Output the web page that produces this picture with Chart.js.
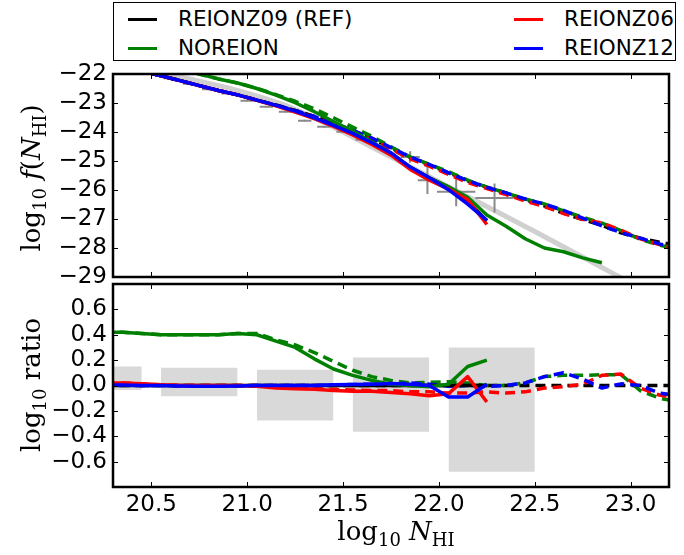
<!DOCTYPE html>
<html>
<head>
<meta charset="utf-8">
<script src="https://cdn.jsdelivr.net/npm/chart.js@4.4.0/dist/chart.umd.min.js"></script>
<style>
  html, body { margin: 0; padding: 0; background: #fff; }
  #wrap { position: relative; width: 684px; height: 555px; overflow: hidden; }
  #wrap canvas { position: absolute; left: 0; }
  #cTop { top: 0; }
  #cBot { top: 280px; }
  #legend {
    position: absolute; left: 113px; top: 2px; width: 561px; height: 57px;
    border: 1.5px solid #000; background: #fff;
    font: 21.5px "DejaVu Sans", sans-serif; color: #000;
  }
  #legend .item { position: absolute; white-space: nowrap; line-height: 1; }
  #legend .item i { position: absolute; left: 0; top: 50%; width: 29px; height: 3px; margin-top: -1px; }
  #legend .item span { position: absolute; left: 50px; top: 50%; transform: translateY(-50%); }
</style>
</head>
<body>
<div id="wrap">
  <canvas id="cTop" width="684" height="292"></canvas>
  <canvas id="cBot" width="684" height="275"></canvas>
  <div id="legend"></div>
</div>
<script>
const xTicks = [20.5, 21.0, 21.5, 22.0, 22.5, 23.0];
const fTicks = [-22, -23, -24, -25, -26, -27, -28, -29];
const ratioTicks = [-0.6, -0.4, -0.2, 0.0, 0.2, 0.4, 0.6];

const names = ['REIONZ09 (REF)', 'NOREION', 'REIONZ06', 'REIONZ12'];
const colors = ['#000000', '#008000', '#ff0000', '#0000ff'];

// log10 N_HI bin centres
const logN = [20.25, 20.35, 20.45, 20.55, 20.65, 20.75, 20.85, 20.95, 21.05, 21.15, 21.25,
  21.35, 21.45, 21.55, 21.65, 21.75, 21.85, 21.95, 22.05, 22.15, 22.25];
const logNGreen = [20.25, 20.35, 20.45, 20.55, 20.65, 20.75, 20.85, 20.95, 21.05, 21.15, 21.25,
  21.35, 21.45, 21.55, 21.65, 21.75, 21.85, 21.95, 22.05, 22.15, 22.25,
  22.35, 22.45, 22.55, 22.65, 22.75, 22.85];
const logNLong = [20.25, 20.35, 20.45, 20.55, 20.65, 20.75, 20.85, 20.95, 21.05, 21.15, 21.25,
  21.35, 21.45, 21.55, 21.65, 21.75, 21.85, 21.95, 22.05, 22.15, 22.25,
  22.35, 22.45, 22.55, 22.65, 22.75, 22.85, 22.95, 23.05, 23.15, 23.25];

// log10 f(N_HI), solid runs
const fRef = [-21.60, -21.74, -21.90, -22.06, -22.23, -22.40, -22.57, -22.72, -22.90, -23.08, -23.28,
  -23.51, -23.77, -24.05, -24.38, -24.74, -25.22, -25.58, -25.90, -26.40, -27.06];
const fNoreion = [-21.18, -21.32, -21.49, -21.66, -21.83, -22.00, -22.17, -22.31, -22.50, -22.73, -22.99,
  -23.30, -23.64, -23.97, -24.34, -24.73, -25.22, -25.59, -25.89, -26.25, -26.86,
  -27.25, -27.68, -28.00, -28.13, -28.34, -28.51];
const fReionz06 = [-21.58, -21.72, -21.89, -22.06, -22.23, -22.40, -22.57, -22.72, -22.91, -23.10, -23.31,
  -23.54, -23.81, -24.10, -24.43, -24.80, -25.29, -25.66, -25.97, -26.33, -27.19];
const fReionz12 = [-21.60, -21.74, -21.90, -22.06, -22.23, -22.40, -22.57, -22.72, -22.90, -23.08, -23.28,
  -23.51, -23.77, -24.05, -24.37, -24.72, -25.21, -25.58, -25.99, -26.49, -27.05];

// log10 f(N_HI), dashed runs
const fRefD = [-21.60, -21.74, -21.90, -22.06, -22.23, -22.40, -22.57, -22.72, -22.90, -23.07, -23.26,
  -23.46, -23.70, -23.95, -24.22, -24.55, -24.88, -25.13, -25.40, -25.68, -25.90,
  -26.10, -26.33, -26.55, -26.80, -27.02, -27.22, -27.48, -27.66, -27.80, -27.92];
const fNoreionD = [-21.18, -21.32, -21.49, -21.66, -21.83, -22.00, -22.17, -22.31, -22.49, -22.71, -22.94,
  -23.20, -23.51, -23.83, -24.15, -24.51, -24.86, -25.11, -25.37, -25.66, -25.90,
  -26.10, -26.31, -26.48, -26.72, -26.94, -27.14, -27.40, -27.70, -27.90, -28.05];
const fReionz06D = [-21.58, -21.72, -21.89, -22.06, -22.23, -22.40, -22.57, -22.72, -22.90, -23.08, -23.28,
  -23.49, -23.73, -23.99, -24.26, -24.59, -24.93, -25.18, -25.46, -25.74, -25.95,
  -26.16, -26.38, -26.57, -26.81, -27.01, -27.14, -27.39, -27.68, -27.88, -28.02];
const fReionz12D = [-21.60, -21.74, -21.90, -22.06, -22.23, -22.40, -22.57, -22.72, -22.90, -23.07, -23.26,
  -23.46, -23.70, -23.94, -24.21, -24.54, -24.86, -25.12, -25.41, -25.68, -25.91,
  -26.10, -26.31, -26.48, -26.70, -26.97, -27.24, -27.47, -27.66, -27.86, -28.00];

// observed distribution: fit curve and binned points
const fitN = [20.3, 20.5, 20.7, 20.9, 21.0, 21.1, 21.2, 21.3, 21.4, 21.5, 21.7, 21.9, 22.1, 22.3, 22.5, 22.7, 22.9, 23.1];
const fitF = [-21.55, -21.87, -22.17, -22.48, -22.66, -22.86, -23.08, -23.36, -23.67, -24.00, -24.69, -25.37,
  -26.06, -26.74, -27.43, -28.14, -28.85, -29.55];
const obsN = [20.6, 20.7, 20.8, 20.9, 21.0, 21.1, 21.2, 21.3, 21.4, 21.5, 21.6, 21.7, 21.85, 21.94, 22.09, 22.29];
const obsF = [-22.15, -22.34, -22.53, -22.67, -22.92, -23.13, -23.30, -23.61, -23.82, -23.99, -24.27, -24.52,
  -24.86, -25.66, -26.06, -26.28];
const obsNErr = [0.035, 0.035, 0.035, 0.035, 0.035, 0.035, 0.035, 0.035, 0.035, 0.035, 0.035, 0.035, 0.05, 0.05, 0.1, 0.1];
const obsFErr = [0.03, 0.03, 0.03, 0.03, 0.03, 0.03, 0.03, 0.03, 0.03, 0.03, 0.03, 0.03, 0.2, 0.48, 0.5, 0.5];

// ratio panel: log10 (run / REF)
const refRatioN = [20.25, 22.25];
const refRatio = [0, 0];
const refRatioDN = [20.25, 23.25];
const refRatioD = [0, 0];
const rNoreion = [0.42, 0.42, 0.41, 0.40, 0.40, 0.40, 0.40, 0.41, 0.40, 0.35, 0.30,
  0.21, 0.13, 0.08, 0.04, 0.01, 0.0, -0.01, 0.01, 0.15, 0.20];
const rReionz06 = [0.02, 0.02, 0.013, 0.005, 0.0, 0.0, 0.0, 0.0, -0.005, -0.02, -0.025,
  -0.03, -0.04, -0.045, -0.045, -0.055, -0.065, -0.08, -0.065, 0.07, -0.13];
const rReionz12 = [0.005, 0.003, 0.0, 0.0, -0.003, -0.005, -0.005, -0.003, 0.0, 0.0, 0.0,
  0.0, 0.005, 0.008, 0.01, 0.015, 0.01, 0.0, -0.09, -0.09, 0.01];
const rNoreionD = [0.42, 0.42, 0.41, 0.40, 0.40, 0.40, 0.40, 0.41, 0.41, 0.36, 0.32,
  0.26, 0.19, 0.12, 0.07, 0.04, 0.02, 0.025, 0.03, 0.02, 0.0,
  0.0, 0.02, 0.07, 0.08, 0.08, 0.085, 0.085, -0.04, -0.10, -0.13];
const rReionz06D = [0.02, 0.02, 0.013, 0.005, 0.0, 0.0, 0.0, 0.0, 0.0, -0.01, -0.02,
  -0.025, -0.03, -0.035, -0.04, -0.04, -0.05, -0.05, -0.06, -0.06, -0.05,
  -0.06, -0.05, -0.02, -0.01, 0.01, 0.08, 0.09, -0.02, -0.075, -0.10];
const rReionz12D = [0.005, 0.003, 0.0, 0.0, -0.003, -0.005, -0.005, -0.003, 0.0, 0.0, 0.0,
  0.0, 0.005, 0.008, 0.01, 0.01, 0.02, 0.01, -0.005, 0.0, -0.008,
  0.0, 0.02, 0.07, 0.10, 0.05, -0.02, 0.013, 0.0, -0.06, -0.08];

// observational uncertainty bands on the ratio
const boxNMin = [20.30, 20.55, 21.05, 21.55, 22.05];
const boxNMax = [20.45, 20.95, 21.45, 21.95, 22.50];
const boxLow = [-0.035, -0.085, -0.275, -0.365, -0.68];
const boxHigh = [0.15, 0.14, 0.125, 0.22, 0.30];

Chart.defaults.font.family = '"DejaVu Sans", sans-serif';
Chart.defaults.font.size = 23;
Chart.defaults.color = '#000';
Chart.defaults.animation = false;

const DASH = [10, 6];

function pts(xs, ys) {
  return xs.map((x, i) => ({ x: x, y: ys[i] }));
}

function line(xs, ys, color, dashed, order, extra) {
  return Object.assign({
    data: pts(xs, ys),
    borderColor: color,
    borderWidth: 3.5,
    borderDash: dashed ? DASH : [],
    borderJoinStyle: 'round',
    pointRadius: 0,
    fill: false,
    tension: 0,
    order: order
  }, extra || {});
}

// error crosses as broken line segments
function crossBars(horizontal) {
  const d = [];
  obsN.forEach((n, i) => {
    if (horizontal) {
      d.push({ x: n - obsNErr[i], y: obsF[i] }, { x: n + obsNErr[i], y: obsF[i] });
    } else {
      d.push({ x: n, y: obsF[i] - obsFErr[i] }, { x: n, y: obsF[i] + obsFErr[i] });
    }
    d.push({ x: n, y: null });
  });
  return d;
}

function minusFmt(v, digits) {
  const s = Math.abs(v).toFixed(digits);
  return v < -1e-9 ? '\u2212' + s : s;
}

// inward tick marks on all four sides plus the heavy frame
const framePlugin = {
  id: 'frame',
  afterDatasetsDraw(chart) {
    const { ctx, chartArea: a, scales } = chart;
    const len = 5;
    ctx.save();
    ctx.strokeStyle = '#000';
    ctx.lineWidth = 1;
    ctx.beginPath();
    scales.x.ticks.forEach(t => {
      const px = Math.round(scales.x.getPixelForValue(t.value)) + 0.5;
      ctx.moveTo(px, a.bottom); ctx.lineTo(px, a.bottom - len);
      ctx.moveTo(px, a.top); ctx.lineTo(px, a.top + len);
    });
    scales.y.ticks.forEach(t => {
      const py = Math.round(scales.y.getPixelForValue(t.value)) + 0.5;
      ctx.moveTo(a.left, py); ctx.lineTo(a.left + len, py);
      ctx.moveTo(a.right, py); ctx.lineTo(a.right - len, py);
    });
    ctx.stroke();
    ctx.lineWidth = 2.5;
    ctx.strokeRect(a.left, a.top, a.right - a.left, a.bottom - a.top);
    ctx.restore();
  }
};

// mathtext-like label: [text, style] with r = roman, i = italic, s = subscript
function drawMath(ctx, parts, x, y, rotate) {
  const fonts = {
    r: '26px "DejaVu Serif", serif',
    i: 'italic 26px "DejaVu Serif", serif',
    s: '18px "DejaVu Serif", serif'
  };
  ctx.save();
  ctx.translate(x, y);
  if (rotate) ctx.rotate(-Math.PI / 2);
  ctx.fillStyle = '#000';
  ctx.textAlign = 'left';
  ctx.textBaseline = 'alphabetic';
  let w = 0;
  parts.forEach(p => { ctx.font = fonts[p[1]]; w += ctx.measureText(p[0]).width; });
  let cx = -w / 2;
  parts.forEach(p => {
    ctx.font = fonts[p[1]];
    ctx.fillText(p[0], cx, p[1] === 's' ? 6 : 0);
    cx += ctx.measureText(p[0]).width;
  });
  ctx.restore();
}

function titlePlugin(id, draw) {
  return { id: id, afterDraw(chart) { draw(chart.ctx); } };
}

// pin the axis boxes so the plot frame lands where it should
function fixedWidth(w) {
  return scale => { scale.width = w; scale.paddingTop = 0; scale.paddingBottom = 0; };
}
function fixedHeight(h) {
  return scale => { scale.height = h; scale.paddingLeft = 0; scale.paddingRight = 0; };
}

const xScaleBase = {
  type: 'linear',
  min: 20.3,
  max: 23.2,
  grid: { display: false, drawTicks: false },
  border: { display: false },
  afterBuildTicks: scale => { scale.ticks = xTicks.map(v => ({ value: v })); }
};

// upper panel: f(N_HI)
new Chart(document.getElementById('cTop'), {
  type: 'line',
  data: {
    datasets: [
      line(fitN, fitF, '#d0d0d0', false, 20, { borderWidth: 5 }),
      line([], [], '#8a8a8a', false, 19, { data: crossBars(true), borderWidth: 2, spanGaps: false }),
      line([], [], '#8a8a8a', false, 19, { data: crossBars(false), borderWidth: 2, spanGaps: false }),
      line(logNLong, fRefD, colors[0], true, 12),
      line(logNLong, fNoreionD, colors[1], true, 11),
      line(logNLong, fReionz06D, colors[2], true, 10, { borderDashOffset: -2 }),
      line(logNLong, fReionz12D, colors[3], true, 9, { borderDashOffset: -4 }),
      line(logN, fRef, colors[0], false, 8),
      line(logNGreen, fNoreion, colors[1], false, 7),
      line(logN, fReionz06, colors[2], false, 6),
      line(logN, fReionz12, colors[3], false, 5)
    ]
  },
  options: {
    responsive: false,
    devicePixelRatio: 1,
    layout: { padding: { top: 74, right: 15, bottom: 0, left: 0 } },
    plugins: { legend: { display: false }, tooltip: { enabled: false } },
    scales: {
      x: Object.assign({}, xScaleBase, {
        ticks: { display: false },
        afterFit: fixedHeight(15)
      }),
      y: {
        type: 'linear',
        min: -29,
        max: -22,
        grid: { display: false, drawTicks: false },
        border: { display: false },
        ticks: { padding: 6, autoSkip: false, callback: v => minusFmt(v, 0) },
        afterBuildTicks: scale => { scale.ticks = fTicks.map(v => ({ value: v })); },
        afterFit: fixedWidth(113)
      }
    }
  },
  plugins: [framePlugin, titlePlugin('fTitle', ctx => drawMath(ctx, [
    ['log', 'r'], ['10', 's'], [' ', 'r'], ['f', 'i'], ['(', 'r'], ['N', 'i'], ['HI', 's'], [')', 'r']
  ], 40, 178, true))]
});

// lower panel: ratio to REF
const boxSets = boxNMin.map((n0, i) => ({
  data: pts([n0, boxNMax[i]], [boxHigh[i], boxHigh[i]]),
  borderWidth: 0,
  borderColor: 'rgba(0,0,0,0)',
  backgroundColor: '#d9d9d9',
  pointRadius: 0,
  fill: { value: boxLow[i] },
  order: 30
}));

new Chart(document.getElementById('cBot'), {
  type: 'line',
  data: {
    datasets: boxSets.concat([
      line(refRatioDN, refRatioD, colors[0], true, 12),
      line(logNLong, rNoreionD, colors[1], true, 11),
      line(logNLong, rReionz06D, colors[2], true, 10, { borderDashOffset: -2 }),
      line(logNLong, rReionz12D, colors[3], true, 9, { borderDashOffset: -4 }),
      line(refRatioN, refRatio, colors[0], false, 8),
      line(logN, rNoreion, colors[1], false, 7),
      line(logN, rReionz06, colors[2], false, 6),
      line(logN, rReionz12, colors[3], false, 5)
    ])
  },
  options: {
    responsive: false,
    devicePixelRatio: 1,
    layout: { padding: { top: 4, right: 15, bottom: 0, left: 0 } },
    plugins: { legend: { display: false }, tooltip: { enabled: false }, filler: { propagate: false } },
    scales: {
      x: Object.assign({}, xScaleBase, {
        ticks: { padding: 4, autoSkip: false, maxRotation: 0, callback: v => v.toFixed(1) },
        afterFit: fixedHeight(68)
      }),
      y: {
        type: 'linear',
        min: -0.8,
        max: 0.8,
        grid: { display: false, drawTicks: false },
        border: { display: false },
        ticks: { padding: 6, autoSkip: false, callback: v => minusFmt(v, 1) },
        afterBuildTicks: scale => { scale.ticks = ratioTicks.map(v => ({ value: v })); },
        afterFit: fixedWidth(113)
      }
    }
  },
  plugins: [framePlugin,
    titlePlugin('rTitle', ctx => drawMath(ctx, [['log', 'r'], ['10', 's'], [' ratio', 'r']], 40, 105, true)),
    titlePlugin('nTitle', ctx => drawMath(ctx, [['log', 'r'], ['10', 's'], [' ', 'r'], ['N', 'i'], ['HI', 's']], 396, 260, false))
  ]
});

// legend: two columns, two rows
const legendPos = [[14, 16], [14, 45], [400, 16], [400, 45]];
const legendEl = document.getElementById('legend');
names.forEach((name, i) => {
  const item = document.createElement('div');
  item.className = 'item';
  item.style.left = legendPos[i][0] + 'px';
  item.style.top = legendPos[i][1] + 'px';
  const mark = document.createElement('i');
  mark.style.background = colors[i];
  const label = document.createElement('span');
  label.textContent = name;
  item.appendChild(mark);
  item.appendChild(label);
  legendEl.appendChild(item);
});
</script>
</body>
</html>
